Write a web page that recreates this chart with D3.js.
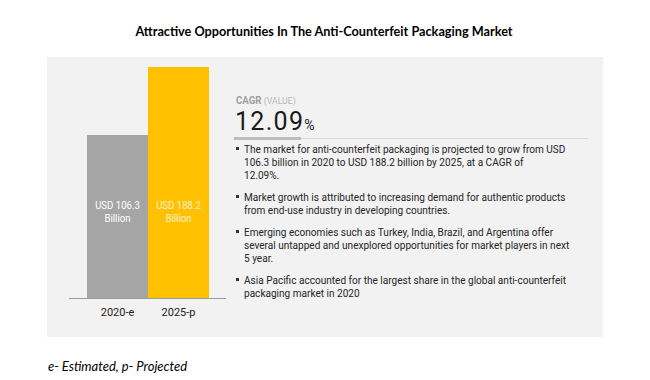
<!DOCTYPE html>
<html>
<head>
<meta charset="utf-8">
<script src="https://cdn.jsdelivr.net/npm/d3@7"></script>
<style>
  body { margin: 0; background: #fff; }
  svg { display: block; }
</style>
</head>
<body>
<div id="chart"></div>
<script>
const years = ['2020-e', '2025-p'];
const values = [106.3, 188.2];
const barLabels = [['USD 106.3', 'Billion'], ['USD 188.2', 'Billion']];
const barColors = ['#a5a5a5', '#ffc000'];
const barTextColors = ['#ffffff', '#fff3cf'];
const cagr = '12.09';
const bullets = [
  ['The market for anti-counterfeit packaging is projected to grow from USD',
   '106.3 billion in 2020 to USD 188.2 billion by 2025, at a CAGR of',
   '12.09%.'],
  ['Market growth is attributed to increasing demand for authentic products',
   'from end-use industry in developing countries.'],
  ['Emerging economies such as Turkey, India, Brazil, and Argentina offer',
   'several untapped and unexplored opportunities for market players in next',
   '5 year.'],
  ['Asia Pacific accounted for the largest share in the global anti-counterfeit',
   'packaging market in 2020']
];

const width = 650, height = 380;
const bodyFont = 'Roboto, sans-serif';
const squeeze = 0.915; // police étroite simulée

const svg = d3.select('#chart').append('svg')
  .attr('width', width).attr('height', height);

function narrowText(parent, px, py) {
  return parent.append('text')
    .attr('transform', `translate(${px},${py}) scale(${squeeze},1)`)
    .style('font-family', bodyFont);
}

// titre
svg.append('text')
  .attr('x', 324).attr('y', 36)
  .attr('text-anchor', 'middle')
  .style('font-family', 'Lato, sans-serif')
  .style('font-weight', '700')
  .style('font-size', '12.7px')
  .style('fill', '#000')
  .text('Attractive Opportunities In The Anti-Counterfeit Packaging Market');

// panneau gris
svg.append('rect')
  .attr('x', 47).attr('y', 57)
  .attr('width', 556).attr('height', 280)
  .style('fill', '#f2f2f2');

const x = d3.scaleBand().domain(years).range([87, 209]).padding(0);
const y = d3.scaleLinear().domain([-90, 188.2]).range([298, 67]);

svg.selectAll('.bar')
  .data(values)
  .join('rect')
  .attr('class', 'bar')
  .attr('x', (d, i) => x(years[i]))
  .attr('y', d => y(d))
  .attr('width', x.bandwidth())
  .attr('height', d => y(-90) - y(d))
  .style('fill', (d, i) => barColors[i]);

// étiquettes des barres
barLabels.forEach((lines, i) => {
  lines.forEach((line, j) => {
    narrowText(svg, x(years[i]) + x.bandwidth() / 2, 209 + j * 13)
      .attr('text-anchor', 'middle')
      .style('font-size', '10.5px')
      .style('fill', barTextColors[i])
      .text(line);
  });
});

// ligne de base
svg.append('line')
  .attr('x1', 69).attr('x2', 226)
  .attr('y1', y(-90) + 0.5).attr('y2', y(-90) + 0.5)
  .style('stroke', '#9a9a9a').style('stroke-width', 1);

const xAxis = svg.append('g')
  .attr('transform', `translate(0,${y(-90)})`)
  .call(d3.axisBottom(x).tickSize(0).tickPadding(10));
xAxis.select('.domain').remove();
xAxis.selectAll('text')
  .style('font-family', bodyFont)
  .style('font-size', '11px')
  .style('fill', '#222');

// bloc CAGR
const cagrG = svg.append('g');
const cagrLabel = narrowText(cagrG, 236, 104)
  .style('font-size', '10.5px');
cagrLabel.append('tspan').style('fill', '#a0a0a0').style('font-weight', '700').text('CAGR ');
cagrLabel.append('tspan').style('fill', '#b5b5b5').style('font-size', '9.5px').text('(VALUE)');

const cagrValue = cagrG.append('text')
  .attr('x', 235).attr('y', 130)
  .style('font-family', bodyFont)
  .style('fill', '#1a1a1a');
cagrValue.append('tspan').style('font-size', '25px').style('letter-spacing', '1.3px').text(cagr);
cagrValue.append('tspan').style('font-size', '14px').text('%');

cagrG.append('line')
  .attr('x1', 234).attr('x2', 588)
  .attr('y1', 138.5).attr('y2', 138.5)
  .style('stroke', '#dadada').style('stroke-width', 1);
cagrG.append('rect')
  .attr('x', 234).attr('y', 137)
  .attr('width', 67).attr('height', 3)
  .style('fill', '#bdbdbd');

// puces
const bulletTops = [153, 201, 236, 284];
bullets.forEach((lines, i) => {
  svg.append('rect')
    .attr('x', 236).attr('y', bulletTops[i] - 6)
    .attr('width', 3).attr('height', 3)
    .style('fill', '#333');
  lines.forEach((line, j) => {
    narrowText(svg, 244, bulletTops[i] + j * 13)
      .style('font-size', '11px')
      .style('fill', '#262626')
      .text(line);
  });
});

// note
svg.append('text')
  .attr('x', 48).attr('y', 371)
  .style('font-family', 'Lato, sans-serif')
  .style('font-style', 'italic')
  .style('font-size', '13px')
  .style('fill', '#000')
  .text('e- Estimated, p- Projected');
</script>
</body>
</html>
